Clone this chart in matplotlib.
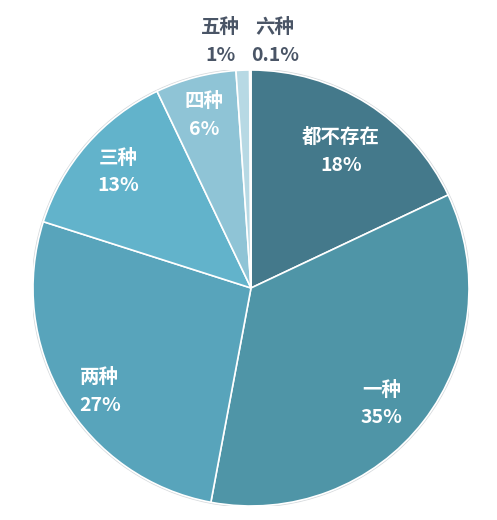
import numpy as np
import matplotlib
matplotlib.use("Agg")
import matplotlib.pyplot as plt

plt.rcParams['font.family'] = ['Noto Sans CJK SC', 'DejaVu Sans']

# data
labels = ['都不存在', '一种', '两种', '三种', '四种', '五种', '六种']
values = [18, 35, 27, 13, 6, 1, 0.1]
pct_text = ['18%', '35%', '27%', '13%', '6%', '1%', '0.1%']
colors = ['#44798b', '#4f95a7', '#58a4bb', '#62b3cb', '#8fc4d6', '#b7d9e4', '#d3e8ee']

W, H = 497, 520
cx, cy, R = 251, 288, 218

fig = plt.figure(figsize=(W / 100, H / 100), dpi=100)
ax = fig.add_axes([(cx - R) / W, (H - cy - R) / H, 2 * R / W, 2 * R / H])

wedges, _ = ax.pie(values, colors=colors, startangle=90, counterclock=False,
                   radius=1, wedgeprops=dict(edgecolor='white', linewidth=1.2))
# faint grey rim like the original
ax.add_patch(plt.Circle((0, 0), 1.004, fill=False, edgecolor='#d5d9dc', linewidth=1.0, zorder=0))
ax.set_xlim(-1, 1)
ax.set_ylim(-1, 1)
ax.set_aspect('equal')
ax.axis('off')

inside_r = [0.75, 0.80, 0.84, 0.81, 0.82]
ang_shift = [-1, -4, 3.5, 0, 0.5]
for i, w in enumerate(wedges):
    ang = np.deg2rad((w.theta1 + w.theta2) / 2 + (ang_shift[i] if i < 5 else 0))
    if i < 5:
        x, y = inside_r[i] * np.cos(ang), inside_r[i] * np.sin(ang)
        ax.text(x, y, labels[i] + '\n' + pct_text[i], ha='center', va='center',
                color='white', fontsize=14, fontweight='heavy', linespacing=1.6)
    else:
        nudge = -0.14 if i == 5 else 0.11
        x, y = nudge, 1.13
        ax.text(x, y, labels[i] + '\n' + pct_text[i], ha='center', va='center',
                color='#4a5566', fontsize=14, fontweight='heavy', linespacing=1.6,
                clip_on=False)

fig.savefig('out.png', dpi=100)
